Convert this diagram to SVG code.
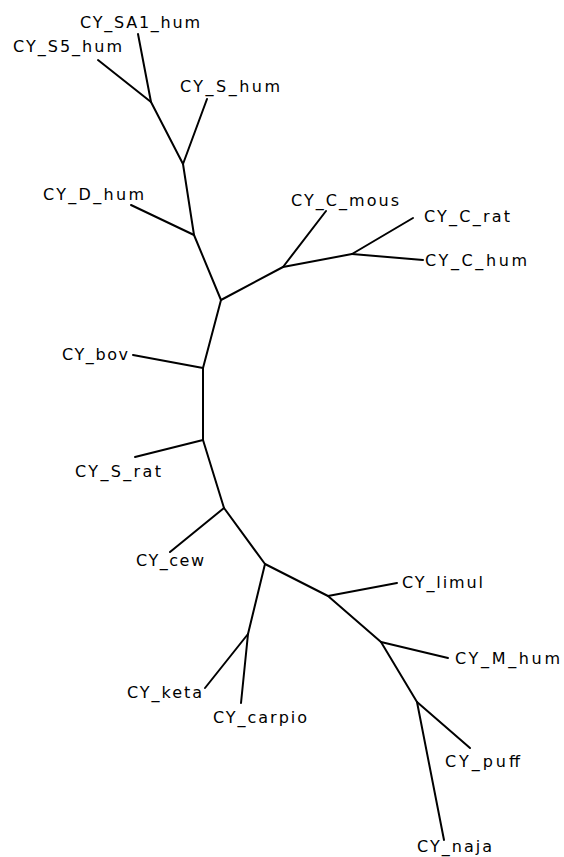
<svg xmlns="http://www.w3.org/2000/svg" width="564" height="857" viewBox="0 0 564 857">
  <style>
    .br { stroke: #000; stroke-width: 2; fill: none; stroke-linecap: round; stroke-linejoin: round; }
    .lb { font-family: "DejaVu Sans", "Liberation Sans", Arial, sans-serif; font-size: 16px; fill: #000; }
  </style>
  <rect width="564" height="857" fill="#fff"/>
  <!-- branches of the unrooted tree -->
  <g id="branches" class="br">
    <!-- top clade -->
    <line x1="138" y1="34" x2="151" y2="102"/>
    <line x1="98" y1="60" x2="151" y2="102"/>
    <line x1="151" y1="102" x2="183" y2="164"/>
    <line x1="207" y1="99" x2="183" y2="164"/>
    <line x1="183" y1="164" x2="194" y2="235"/>
    <line x1="131" y1="205" x2="194" y2="235"/>
    <line x1="194" y1="235" x2="221" y2="300"/>
    <!-- cytochrome C clade -->
    <line x1="221" y1="300" x2="283" y2="267"/>
    <line x1="283" y1="267" x2="326" y2="211"/>
    <line x1="283" y1="267" x2="352" y2="254"/>
    <line x1="352" y1="254" x2="413" y2="218"/>
    <line x1="352" y1="254" x2="423" y2="260"/>
    <!-- backbone -->
    <line x1="221" y1="300" x2="203" y2="368"/>
    <line x1="133" y1="355" x2="203" y2="368"/>
    <line x1="203" y1="368" x2="203" y2="440"/>
    <line x1="135" y1="457" x2="203" y2="440"/>
    <line x1="203" y1="440" x2="224" y2="508"/>
    <line x1="170" y1="552" x2="224" y2="508"/>
    <line x1="224" y1="508" x2="265" y2="564"/>
    <!-- fish clade -->
    <line x1="265" y1="564" x2="248" y2="634"/>
    <line x1="248" y1="634" x2="205" y2="688"/>
    <line x1="248" y1="634" x2="241" y2="703"/>
    <!-- lower right clade -->
    <line x1="265" y1="564" x2="328" y2="596"/>
    <line x1="328" y1="596" x2="397" y2="583"/>
    <line x1="328" y1="596" x2="381" y2="642"/>
    <line x1="381" y1="642" x2="448" y2="658"/>
    <line x1="381" y1="642" x2="417" y2="702"/>
    <line x1="417" y1="702" x2="470" y2="748"/>
    <line x1="417" y1="702" x2="444" y2="840"/>
  </g>
  <!-- leaf labels -->
  <g id="n-SA1"><text class="lb" x="80" y="28" textLength="120" lengthAdjust="spacing">CY_SA1_hum</text></g>
  <g id="n-S5"><text class="lb" x="13" y="52" textLength="109" lengthAdjust="spacing">CY_S5_hum</text></g>
  <g id="n-S"><text class="lb" x="180" y="92" textLength="100" lengthAdjust="spacing">CY_S_hum</text></g>
  <g id="n-D"><text class="lb" x="43" y="200" textLength="101" lengthAdjust="spacing">CY_D_hum</text></g>
  <g id="n-Cmous"><text class="lb" x="291" y="206" textLength="108" lengthAdjust="spacing">CY_C_mous</text></g>
  <g id="n-Crat"><text class="lb" x="424" y="222" textLength="86" lengthAdjust="spacing">CY_C_rat</text></g>
  <g id="n-Chum"><text class="lb" x="425" y="266" textLength="102" lengthAdjust="spacing">CY_C_hum</text></g>
  <g id="n-bov"><text class="lb" x="62" y="360" textLength="66" lengthAdjust="spacing">CY_bov</text></g>
  <g id="n-Srat"><text class="lb" x="75" y="477" textLength="86" lengthAdjust="spacing">CY_S_rat</text></g>
  <g id="n-cew"><text class="lb" x="136" y="566" textLength="68" lengthAdjust="spacing">CY_cew</text></g>
  <g id="n-keta"><text class="lb" x="127" y="698" textLength="75" lengthAdjust="spacing">CY_keta</text></g>
  <g id="n-carpio"><text class="lb" x="213" y="723" textLength="94" lengthAdjust="spacing">CY_carpio</text></g>
  <g id="n-limul"><text class="lb" x="402" y="588" textLength="81" lengthAdjust="spacing">CY_limul</text></g>
  <g id="n-Mhum"><text class="lb" x="455" y="664" textLength="105" lengthAdjust="spacing">CY_M_hum</text></g>
  <g id="n-puff"><text class="lb" x="445" y="767" textLength="75" lengthAdjust="spacing">CY_puff</text></g>
  <g id="n-naja"><text class="lb" x="417" y="852" textLength="75" lengthAdjust="spacing">CY_naja</text></g>
</svg>
